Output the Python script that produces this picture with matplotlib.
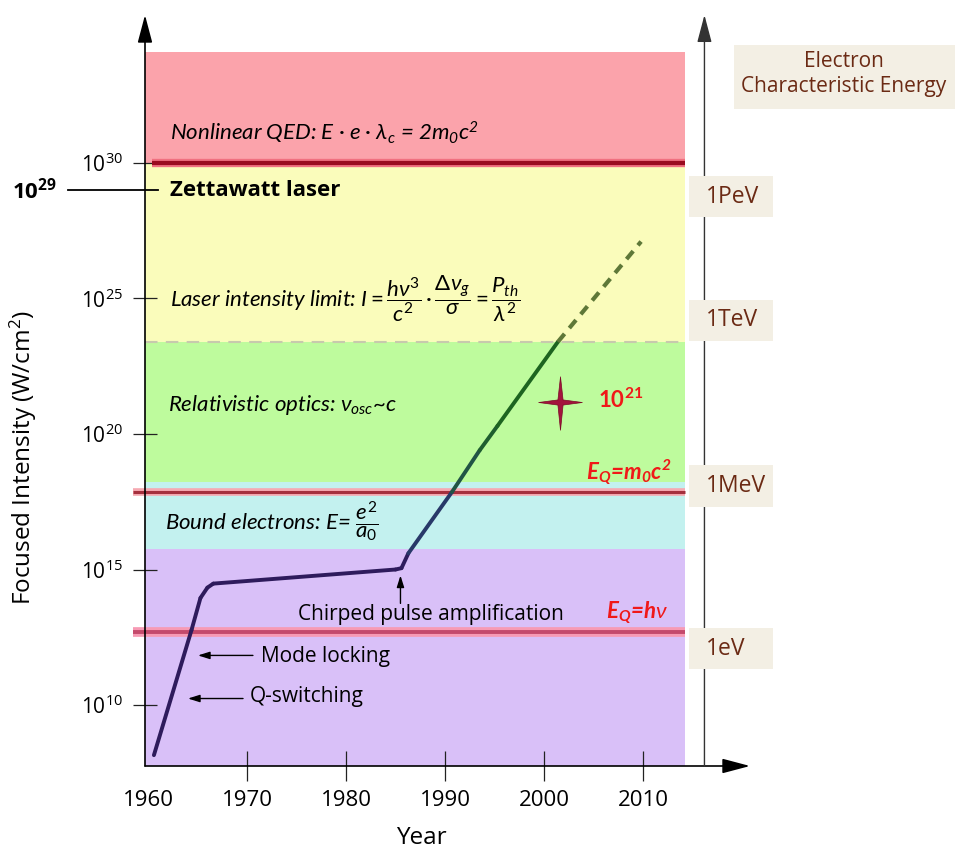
import numpy as np
import matplotlib.pyplot as plt
from matplotlib.collections import LineCollection
from matplotlib.colors import LinearSegmentedColormap, Normalize
from matplotlib.patches import Rectangle
from matplotlib.path import Path
from matplotlib.ticker import NullLocator

plt.rcParams['font.family'] = ['Open Sans', 'DejaVu Sans']
plt.rcParams['mathtext.fontset'] = 'custom'
plt.rcParams['mathtext.rm'] = 'Lato'
plt.rcParams['mathtext.it'] = 'Lato:italic'
plt.rcParams['mathtext.bf'] = 'Lato:bold'
LATO = ['Lato', 'DejaVu Sans']

# laser history: year vs log10 focused intensity (W/cm^2)
years = [1960.6, 1964.4, 1965.3, 1966.0, 1966.6, 1985.0, 1985.6, 1986.3, 1990.7, 1993.5, 1995.3, 2001.4]
log_intensity = [8.15, 12.77, 13.95, 14.33, 14.48, 15.0, 15.05, 15.6, 17.86, 19.4, 20.3, 23.4]
proj_years = [2001.4, 2009.8]
proj_log = [23.4, 27.1]

# physical regimes (log10 W/cm^2)
band_edges = [7.75, 15.77, 18.23, 23.4, 30.0, 34.1]
band_colors = ['#d9c0f8', '#c3f1ef', '#befb9d', '#fafcbb', '#fba3ab']
qed_level = 30.0
rest_mass_level = 17.86
photon_level = 12.68
zetta_level = 29.0
star_year, star_log = 2001.6, 21.18

energy_labels = ['1PeV', '1TeV', '1MeV', '1eV']
energy_log = [28.75, 24.19, 18.08, 12.08]

ytick_exp = [10, 15, 20, 25, 30]
xtick_years = [1960, 1970, 1980, 1990, 2000, 2010]

x_left, x_right = 1959.7, 2020.8
band_right = 2014.25
right_axis_x = 2016.2

fig = plt.figure(figsize=(9.55, 8.49), dpi=100)
ax = fig.add_axes([145/955, 1 - 766/849, 605/955, 751/849])
ax.set_yscale('log')
ax.set_xlim(x_left, x_right)
ax.set_ylim(10**7.75, 10**35.46)
for s in ax.spines.values():
    s.set_visible(False)

# coloured regime bands
for lo, hi, c in zip(band_edges[:-1], band_edges[1:], band_colors):
    ax.fill_between([x_left, band_right], 10**lo, 10**hi, color=c, lw=0, zorder=0)
ax.plot([x_left, band_right], [10**band_edges[3]]*2, ls=(0, (6, 4)), color='#c8c9ad', lw=1.5, zorder=1)

# threshold lines
ax.plot([1960.4, band_right], [10**qed_level]*2, color='#f07080', lw=6, zorder=2, solid_capstyle='butt')
ax.plot([1960.4, band_right], [10**qed_level]*2, color='#9a0b20', lw=3, zorder=2, solid_capstyle='butt')
ax.plot([1958.5, band_right], [10**rest_mass_level]*2, color='#f6a9b2', lw=5.5, zorder=2, clip_on=False, solid_capstyle='butt')
ax.plot([1958.5, band_right], [10**rest_mass_level]*2, color='#a5303e', lw=2.2, zorder=2, clip_on=False, solid_capstyle='butt')
ax.plot([1958.5, band_right], [10**photon_level]*2, color='#f79ab4', lw=7, zorder=2, clip_on=False, solid_capstyle='butt')
ax.plot([1958.5, band_right], [10**photon_level]*2, color='#c44a6c', lw=2.8, zorder=2, clip_on=False, solid_capstyle='butt')

# intensity curve, navy -> green
yv = 10**np.array(log_intensity)
pts = np.column_stack([years, yv])
segs = np.stack([pts[:-1], pts[1:]], axis=1)
mid = (np.array(log_intensity[:-1]) + np.array(log_intensity[1:])) / 2
cmap = LinearSegmentedColormap.from_list('lz', ['#2e1b5c', '#26416c', '#1f5a3a', '#1d6420'])
lc = LineCollection(segs, colors=cmap(Normalize(15.2, 21)(mid)), lw=2.8, capstyle='round', joinstyle='round', zorder=4)
ax.add_collection(lc)
ax.plot(proj_years, 10**np.array(proj_log), ls=(0, (2.5, 1.8)), color='#5e7838', lw=3, zorder=4)

# star
star = Path([(0, 1), (0.1, 0.1), (0.85, 0), (0.1, -0.1), (0, -1.08), (-0.1, -0.1), (-0.85, 0), (-0.1, 0.1), (0, 1)],
            [Path.MOVETO] + [Path.LINETO]*7 + [Path.CLOSEPOLY])
ax.plot([star_year], [10**star_log], marker=star, ms=40, color='#a3133d', mec='#7a0a25', mew=0.5, zorder=5)
ax.text(2005.4, 10**21.25, r'$\mathdefault{10^{21}}$', color='#f01818', fontsize=16, fontweight='bold',
        va='center', family=LATO)

# axes arrows
arr = dict(arrowstyle='-|>,head_length=1.7,head_width=0.45', color='black', lw=1.2, shrinkA=0, shrinkB=0)
ax.annotate('', xy=(0, 1), xytext=(0, 0), xycoords='axes fraction', arrowprops=arr)
ax.annotate('', xy=(1, 0), xytext=(0, 0), xycoords='axes fraction', arrowprops=arr)
ax.annotate('', xy=(right_axis_x, 10**35.46), xytext=(right_axis_x, 10**7.75),
            arrowprops=dict(arr, color='#333333', lw=1.0))

# ticks
ax.set_xticks(xtick_years)
ax.set_xticklabels([str(y) for y in xtick_years])
ax.set_yticks([10.0**e for e in ytick_exp])
ax.set_yticklabels([r'$\mathdefault{10^{%d}}$' % e for e in ytick_exp])
ax.yaxis.set_minor_locator(NullLocator())
ax.tick_params(axis='x', direction='inout', length=22, width=0.9, pad=6, labelsize=16, color='#222222')
ax.tick_params(axis='y', direction='inout', length=17, width=0.9, pad=7, labelsize=15, color='#222222')
ax.xaxis.get_major_ticks()[0].tick1line.set_visible(False)

fig.text(23/955, 1 - 458/849, 'Focused Intensity (W/cm$\\mathdefault{^2}$)', rotation=90,
         ha='center', va='center', fontsize=17.5)
fig.text(421/955, 1 - 838/849, 'Year', ha='center', va='center', fontsize=17.5)

# zettawatt marker
ax.plot([1951.9, 1961.0], [10**zetta_level]*2, color='black', lw=1.3, clip_on=False)
ax.text(1946.3, 10**zetta_level, r'$\mathdefault{10^{29}}$', fontsize=16, fontweight='bold', va='center', ha='left')
ax.text(1962.2, 10**zetta_level, 'Zettawatt laser', fontsize=16, fontweight='bold', va='center')

# regime labels
ax.text(1962.2, 10**31.1, r'Nonlinear QED: E $\bullet$ e $\bullet$ λ$\mathdefault{_c}$ = 2m$\mathdefault{_0}$c$\mathdefault{^2}$',
        fontsize=16, style='italic', va='center', family=LATO)
ax.text(1962.2, 10**25.0, r'Laser intensity limit: $I = \dfrac{h\nu^3}{c^2}\bullet\dfrac{\Delta\nu_g}{\sigma} = \dfrac{P_{th}}{\lambda^2}$',
        fontsize=16, style='italic', va='center', family=LATO)
ax.text(1962.0, 10**21.07, r'Relativistic optics: $\nu_{osc}$~c', fontsize=16, style='italic', va='center', family=LATO)
ax.text(1961.7, 10**16.75, r'Bound electrons: E= $\dfrac{e^2}{a_0}$', fontsize=16, style='italic', va='center', family=LATO)
ax.text(2012.9, 10**18.6, r'E$\mathdefault{_Q}$=m$\mathdefault{_0}$c$\mathdefault{^2}$', fontsize=16, style='italic',
        fontweight='bold', color='#f01818', ha='right', va='center', family=LATO)
ax.text(2012.5, 10**13.41, r'E$\mathdefault{_Q}$=h$\nu$', fontsize=16, style='italic', fontweight='bold',
        color='#f01818', ha='right', va='center', family=LATO)

# milestones
small = dict(arrowstyle='-|>,head_length=0.7,head_width=0.22', color='black', lw=1.0, shrinkA=0, shrinkB=0)
ax.annotate('', xy=(1985.5, 10**14.78), xytext=(1985.5, 10**13.75), arrowprops=small)
ax.text(1975.2, 10**13.34, 'Chirped pulse amplification', fontsize=15, va='center')
ax.annotate('', xy=(1965.05, 10**11.83), xytext=(1970.6, 10**11.83), arrowprops=small)
ax.text(1971.4, 10**11.78, 'Mode locking', fontsize=15, va='center')
ax.annotate('', xy=(1964.04, 10**10.24), xytext=(1969.6, 10**10.24), arrowprops=small)
ax.text(1970.3, 10**10.31, 'Q-switching', fontsize=15, va='center')

# electron energy scale
for lab, e in zip(energy_labels, energy_log):
    ax.add_patch(Rectangle((2014.6, 10**(e - 0.76)), 8.5, 10**(e + 0.76) - 10**(e - 0.76),
                           facecolor='#f3efe4', edgecolor='none', clip_on=False, zorder=6))
    ax.text(2016.37, 10**e, lab, color='#6b2a14', fontsize=16.5, va='center', ha='left', zorder=7)

fig.add_artist(Rectangle((734/955, 1 - 109/849), 221/955, 64/849, transform=fig.transFigure,
                         facecolor='#f3efe4', edgecolor='none'))
fig.text(844/955, 1 - 74/849, 'Electron\nCharacteristic Energy', ha='center', va='center',
         multialignment='center', fontsize=15, color='#6b2a14', linespacing=1.2)

fig.savefig('out.png', dpi=100)
